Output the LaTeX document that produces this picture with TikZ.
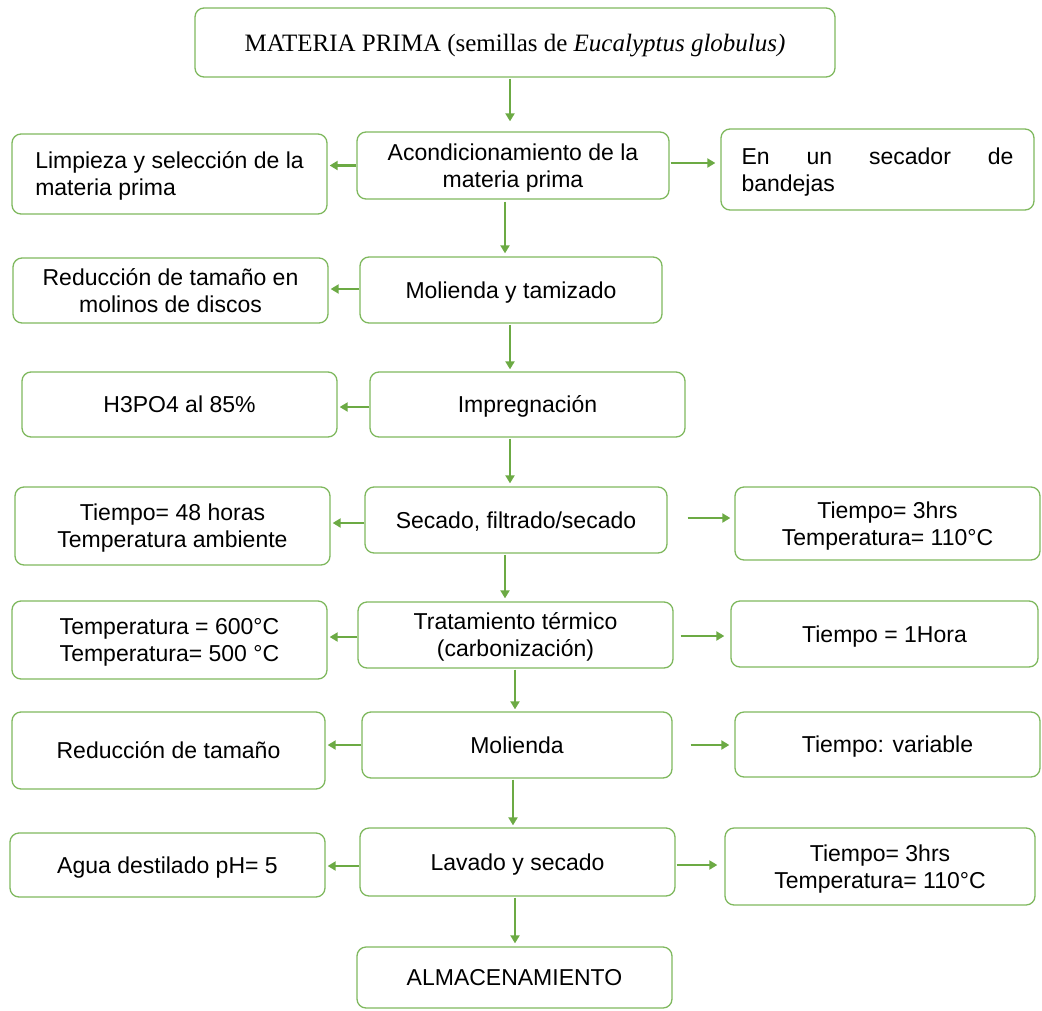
\documentclass[tikz,border=0pt]{standalone}
\usepackage{fontspec}
\setmainfont{Liberation Sans}
\newfontfamily\serifx{Liberation Serif}
\usetikzlibrary{arrows.meta}
\definecolor{boxg}{HTML}{7FB85E}
\definecolor{arrg}{HTML}{6CAA44}
\begin{document}
\begin{tikzpicture}[x=1pt,y=-1pt,
 box/.style={draw=boxg,line width=1.3pt,rounded corners=9pt,align=center,
   font=\fontsize{23}{27}\selectfont,inner sep=0pt,text depth=0pt},
 arr/.style={draw=arrg,line width=2.8pt,-{Triangle[length=8pt,width=9pt]}}]
\useasboundingbox (0,0) rectangle (1042,1010);

\node[box,minimum width=640pt,minimum height=69pt,font=\serifx\fontsize{25}{30}\selectfont] (top) at (515,42.5)
  {MATERIA PRIMA (semillas de \textit{Eucalyptus globulus)}};

\node[box,minimum width=315pt,minimum height=80pt,align=left] (acL) at (169.5,174)
  {Limpieza y selección de la\\materia prima};
\node[box,minimum width=312pt,minimum height=67pt] (ac) at (513,165.5)
  {Acondicionamiento de la\\materia prima};
\node[box,minimum width=313pt,minimum height=81pt,align=left] (acR) at (877.5,169.5)
  {\makebox[272pt]{En\hfill un\hfill secador\hfill de}\\bandejas};

\node[box,minimum width=315pt,minimum height=65pt] (mo1L) at (170.5,290.5)
  {Reducción de tamaño en\\molinos de discos};
\node[box,minimum width=302pt,minimum height=66pt] (mo1) at (511,290)
  {Molienda y tamizado};

\node[box,minimum width=315pt,minimum height=65pt] (imL) at (179.5,404.5)
  {H3PO4 al 85\%};
\node[box,minimum width=315pt,minimum height=65pt] (im) at (527.5,404.5)
  {Impregnación};

\node[box,minimum width=315pt,minimum height=78pt] (seL) at (172.5,526)
  {Tiempo= 48 horas\\Temperatura ambiente};
\node[box,minimum width=302pt,minimum height=66pt] (se) at (516,520)
  {Secado, filtrado/secado};
\node[box,minimum width=305pt,minimum height=73pt] (seR) at (887.5,523.5)
  {Tiempo= 3hrs\\Temperatura= 110°C};

\node[box,minimum width=315pt,minimum height=78pt] (trL) at (169.5,640)
  {Temperatura = 600°C\\Temperatura= 500 °C};
\node[box,minimum width=315pt,minimum height=66pt] (tr) at (515.5,635)
  {Tratamiento térmico\\(carbonización)};
\node[box,minimum width=307pt,minimum height=66pt] (trR) at (884.5,634)
  {Tiempo = 1Hora};

\node[box,minimum width=313pt,minimum height=77pt] (mo2L) at (168.5,750.5)
  {Reducción de tamaño};
\node[box,minimum width=310pt,minimum height=66pt] (mo2) at (517,745)
  {Molienda};
\node[box,minimum width=305pt,minimum height=65pt] (mo2R) at (887.5,744.5)
  {Tiempo: variable};

\node[box,minimum width=315pt,minimum height=64pt] (laL) at (167.5,865)
  {Agua destilado pH= 5};
\node[box,minimum width=315pt,minimum height=68pt] (la) at (517.5,862)
  {Lavado y secado};
\node[box,minimum width=310pt,minimum height=77pt] (laR) at (880,866.5)
  {Tiempo= 3hrs\\Temperatura= 110°C};

\node[box,minimum width=315pt,minimum height=61pt] (al) at (514.5,977.5)
  {ALMACENAMIENTO};

% vertical arrows
\draw[arr,shorten <=1pt,shorten >=10pt] ([xshift=-5pt]top.south) -- ([xshift=-5pt]top.south |- ac.north);
\draw[arr,shorten <=2pt,shorten >=3pt] ([xshift=-8pt]ac.south) -- ([xshift=-8pt]ac.south |- mo1.north);
\draw[arr,shorten <=1pt,shorten >=2pt] ([xshift=-1pt]mo1.south) -- ([xshift=-1pt]mo1.south |- im.north);
\draw[arr,shorten <=1pt,shorten >=3pt] ([xshift=-17.5pt]im.south) -- ([xshift=-17.5pt]im.south |- se.north);
\draw[arr,shorten <=1pt,shorten >=3pt] ([xshift=-11pt]se.south) -- ([xshift=-11pt]se.south |- tr.north);
\draw[arr,shorten <=1pt,shorten >=2pt] ([xshift=-0.5pt]tr.south) -- ([xshift=-0.5pt]tr.south |- mo2.north);
\draw[arr,shorten <=1pt,shorten >=2pt] ([xshift=-4pt]mo2.south) -- ([xshift=-4pt]mo2.south |- la.north);
\draw[arr,shorten <=1pt,shorten >=3pt] ([xshift=-2.5pt]la.south) -- ([xshift=-2.5pt]la.south |- al.north);

% left arrows
\draw[arr,shorten >=2pt] (ac.west) -- (ac.west -| acL.east);
\draw[arr,shorten >=2pt] ([yshift=1pt]mo1.west) -- ([yshift=1pt]mo1.west -| mo1L.east);
\draw[arr,shorten >=2pt] ([yshift=-2.5pt]im.west) -- ([yshift=-2.5pt]im.west -| imL.east);
\draw[arr,shorten >=2pt] ([yshift=-3pt]se.west) -- ([yshift=-3pt]se.west -| seL.east);
\draw[arr,shorten >=2pt] ([yshift=-2pt]tr.west) -- ([yshift=-2pt]tr.west -| trL.east);
\draw[arr,shorten >=2pt] (mo2.west) -- (mo2.west -| mo2L.east);
\draw[arr,shorten >=2pt] ([yshift=-4pt]la.west) -- ([yshift=-4pt]la.west -| laL.east);

% right arrows
\draw[arr,shorten <=1pt,shorten >=5pt] ([yshift=2.5pt]ac.east) -- ([yshift=2.5pt]ac.east -| acR.west);
\draw[arr,shorten <=20pt,shorten >=4pt] ([yshift=2pt]se.east) -- ([yshift=2pt]se.east -| seR.west);
\draw[arr,shorten <=7pt,shorten >=6pt] ([yshift=-1pt]tr.east) -- ([yshift=-1pt]tr.east -| trR.west);
\draw[arr,shorten <=18pt,shorten >=5pt] (mo2.east) -- (mo2.east -| mo2R.west);
\draw[arr,shorten <=1pt,shorten >=7pt] ([yshift=-3pt]la.east) -- ([yshift=-3pt]la.east -| laR.west);
\end{tikzpicture}
\end{document}
